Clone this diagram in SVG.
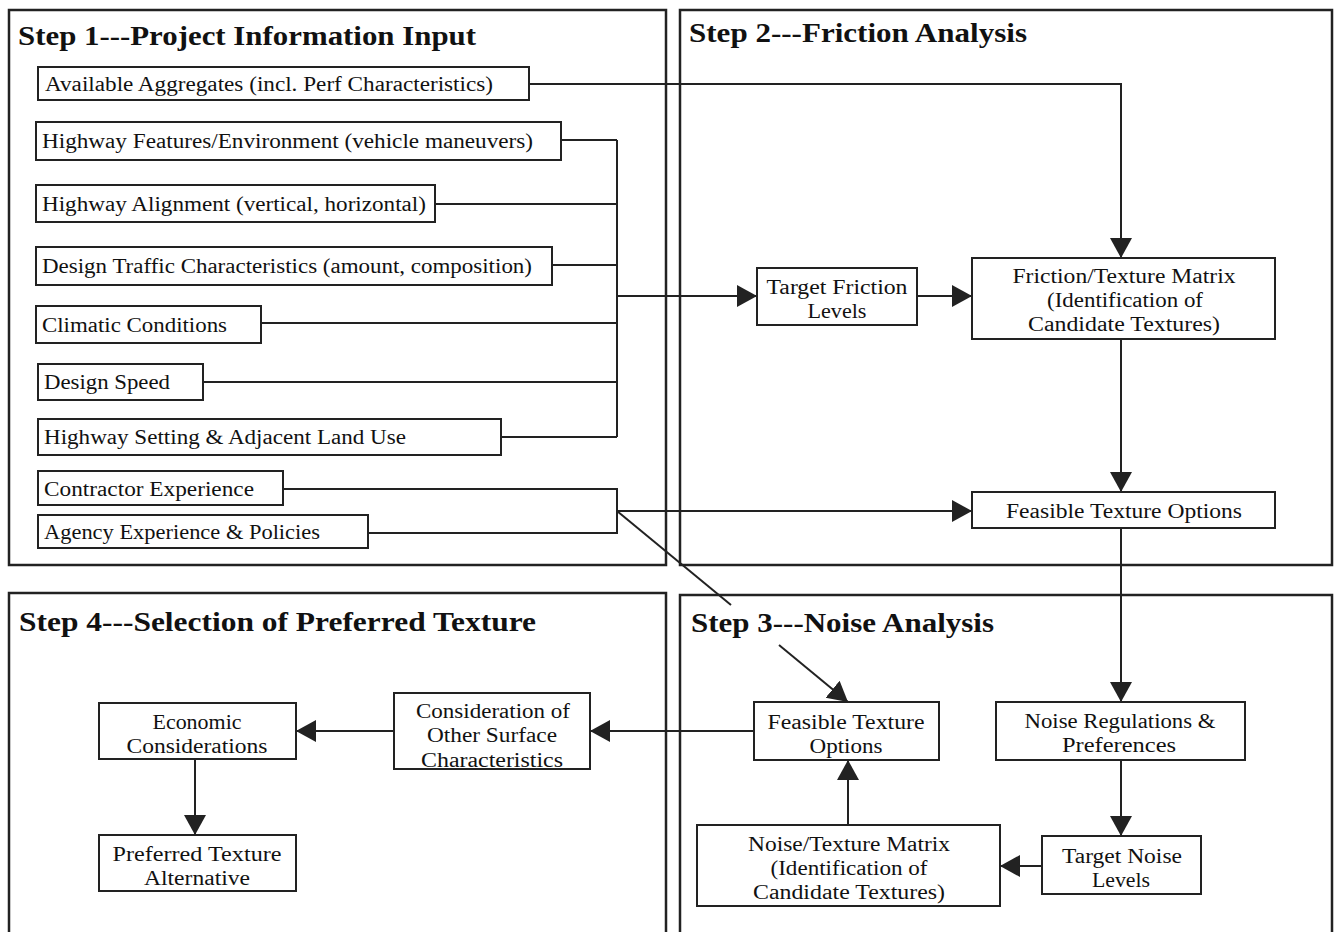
<svg xmlns="http://www.w3.org/2000/svg" width="1334" height="932" viewBox="0 0 1334 932">
<style>
.panel{fill:none;stroke:#222;stroke-width:2.5}
.box{fill:#fff;stroke:#222;stroke-width:2}
.con{fill:none;stroke:#222;stroke-width:2}
.arr{fill:none;stroke:#222;stroke-width:2;marker-end:url(#ah)}
.t{font-family:"Liberation Serif","DejaVu Serif",serif;font-size:20.5px;fill:#111}
.c{text-anchor:middle}
.h{font-family:"Liberation Serif","DejaVu Serif",serif;font-size:27px;font-weight:bold;fill:#111}
</style>
<defs>
<marker id="ah" markerUnits="userSpaceOnUse" markerWidth="22" markerHeight="24" refX="20" refY="11" orient="auto" viewBox="0 0 22 22">
<path d="M0,0 L20,11 L0,22 z" fill="#222"/>
</marker>
</defs>
<rect width="1334" height="932" fill="#fff"/>
<g id="panels">
<rect class="panel" x="9" y="10" width="657" height="555"/>
<rect class="panel" x="680" y="10" width="652" height="555"/>
<path class="panel" d="M9,934 V593 H666 V934"/>
<path class="panel" d="M680,934 V595 H1332 V934"/>
<text class="h" x="18" y="45" textLength="458" lengthAdjust="spacingAndGlyphs">Step 1---Project Information Input</text>
<text class="h" x="689" y="42" textLength="338" lengthAdjust="spacingAndGlyphs">Step 2---Friction Analysis</text>
<text class="h" x="19" y="631" textLength="517" lengthAdjust="spacingAndGlyphs">Step 4---Selection of Preferred Texture</text>
<text class="h" x="691" y="632" textLength="303" lengthAdjust="spacingAndGlyphs">Step 3---Noise Analysis</text>
</g>
<g id="connectors">
<path class="arr" d="M529,84 H1121 V258"/>
<path class="con" d="M617,140 V437 M561,140 H617 M435,204 H617 M552,265 H617 M261,323 H617 M203,382 H617 M501,437 H617"/>
<path class="arr" d="M617,296 H757"/>
<path class="arr" d="M917,296 H972"/>
<path class="arr" d="M1121,339 V492"/>
<path class="con" d="M283,489 H617 V533 H368"/>
<path class="arr" d="M617,511 H972"/>
<path class="con" d="M617,511 L731,605"/>
<path class="arr" d="M779,645 L848,702"/>
<path class="arr" d="M1121,528 V702"/>
<path class="arr" d="M1121,760 V836"/>
<path class="arr" d="M1042,866 H1000"/>
<path class="arr" d="M848,825 V760"/>
<path class="arr" d="M754,731 H590"/>
<path class="arr" d="M394,731 H296"/>
<path class="arr" d="M195,759 V835"/>
</g>
<g id="n-aggregates"><rect class="box" x="38" y="67" width="491" height="33"/><text class="t" x="45" y="91" textLength="448" lengthAdjust="spacingAndGlyphs">Available Aggregates (incl. Perf Characteristics)</text></g>
<g id="n-features"><rect class="box" x="36" y="122" width="525" height="38"/><text class="t" x="42" y="148" textLength="491" lengthAdjust="spacingAndGlyphs">Highway Features/Environment (vehicle maneuvers)</text></g>
<g id="n-alignment"><rect class="box" x="36" y="185" width="399" height="37"/><text class="t" x="42" y="211" textLength="384" lengthAdjust="spacingAndGlyphs">Highway Alignment (vertical, horizontal)</text></g>
<g id="n-traffic"><rect class="box" x="36" y="247" width="516" height="38"/><text class="t" x="42" y="273" textLength="490" lengthAdjust="spacingAndGlyphs">Design Traffic Characteristics (amount, composition)</text></g>
<g id="n-climatic"><rect class="box" x="36" y="306" width="225" height="37"/><text class="t" x="42" y="332" textLength="185" lengthAdjust="spacingAndGlyphs">Climatic Conditions</text></g>
<g id="n-speed"><rect class="box" x="38" y="364" width="165" height="36"/><text class="t" x="44" y="389" textLength="126" lengthAdjust="spacingAndGlyphs">Design Speed</text></g>
<g id="n-setting"><rect class="box" x="38" y="419" width="463" height="36"/><text class="t" x="44" y="444" textLength="362" lengthAdjust="spacingAndGlyphs">Highway Setting &amp; Adjacent Land Use</text></g>
<g id="n-contractor"><rect class="box" x="38" y="471" width="245" height="34"/><text class="t" x="44" y="496" textLength="210" lengthAdjust="spacingAndGlyphs">Contractor Experience</text></g>
<g id="n-agency"><rect class="box" x="38" y="515" width="330" height="33"/><text class="t" x="44" y="539" textLength="276" lengthAdjust="spacingAndGlyphs">Agency Experience &amp; Policies</text></g>
<g id="n-target-friction"><rect class="box" x="757" y="268" width="160" height="57"/><text class="t c" x="837" y="294" textLength="141" lengthAdjust="spacingAndGlyphs">Target Friction</text><text class="t c" x="837" y="318" textLength="59" lengthAdjust="spacingAndGlyphs">Levels</text></g>
<g id="n-friction-matrix"><rect class="box" x="972" y="258" width="303" height="81"/><text class="t c" x="1124" y="283" textLength="223" lengthAdjust="spacingAndGlyphs">Friction/Texture Matrix</text><text class="t c" x="1125" y="307" textLength="156" lengthAdjust="spacingAndGlyphs">(Identification of</text><text class="t c" x="1124" y="331" textLength="192" lengthAdjust="spacingAndGlyphs">Candidate Textures)</text></g>
<g id="n-feasible-2"><rect class="box" x="972" y="492" width="303" height="36"/><text class="t c" x="1124" y="518" textLength="236" lengthAdjust="spacingAndGlyphs">Feasible Texture Options</text></g>
<g id="n-noise-reg"><rect class="box" x="996" y="702" width="249" height="58"/><text class="t c" x="1120" y="728" textLength="191" lengthAdjust="spacingAndGlyphs">Noise Regulations &amp;</text><text class="t c" x="1119" y="752" textLength="114" lengthAdjust="spacingAndGlyphs">Preferences</text></g>
<g id="n-target-noise"><rect class="box" x="1042" y="836" width="159" height="58"/><text class="t c" x="1122" y="863" textLength="120" lengthAdjust="spacingAndGlyphs">Target Noise</text><text class="t c" x="1121" y="887" textLength="58" lengthAdjust="spacingAndGlyphs">Levels</text></g>
<g id="n-noise-matrix"><rect class="box" x="697" y="825" width="303" height="81"/><text class="t c" x="849" y="851" textLength="202" lengthAdjust="spacingAndGlyphs">Noise/Texture Matrix</text><text class="t c" x="849" y="875" textLength="157" lengthAdjust="spacingAndGlyphs">(Identification of</text><text class="t c" x="849" y="899" textLength="192" lengthAdjust="spacingAndGlyphs">Candidate Textures)</text></g>
<g id="n-feasible-3"><rect class="box" x="754" y="702" width="185" height="58"/><text class="t c" x="846" y="729" textLength="157" lengthAdjust="spacingAndGlyphs">Feasible Texture</text><text class="t c" x="846" y="753" textLength="73" lengthAdjust="spacingAndGlyphs">Options</text></g>
<g id="n-consideration"><rect class="box" x="394" y="693" width="196" height="76"/><text class="t c" x="493" y="718" textLength="154" lengthAdjust="spacingAndGlyphs">Consideration of</text><text class="t c" x="492" y="742" textLength="130" lengthAdjust="spacingAndGlyphs">Other Surface</text><text class="t c" x="492" y="767" textLength="142" lengthAdjust="spacingAndGlyphs">Characteristics</text></g>
<g id="n-economic"><rect class="box" x="99" y="703" width="197" height="56"/><text class="t c" x="197" y="729" textLength="89" lengthAdjust="spacingAndGlyphs">Economic</text><text class="t c" x="197" y="753" textLength="141" lengthAdjust="spacingAndGlyphs">Considerations</text></g>
<g id="n-preferred"><rect class="box" x="99" y="835" width="197" height="56"/><text class="t c" x="197" y="861" textLength="169" lengthAdjust="spacingAndGlyphs">Preferred Texture</text><text class="t c" x="197" y="885" textLength="106" lengthAdjust="spacingAndGlyphs">Alternative</text></g>
</svg>
